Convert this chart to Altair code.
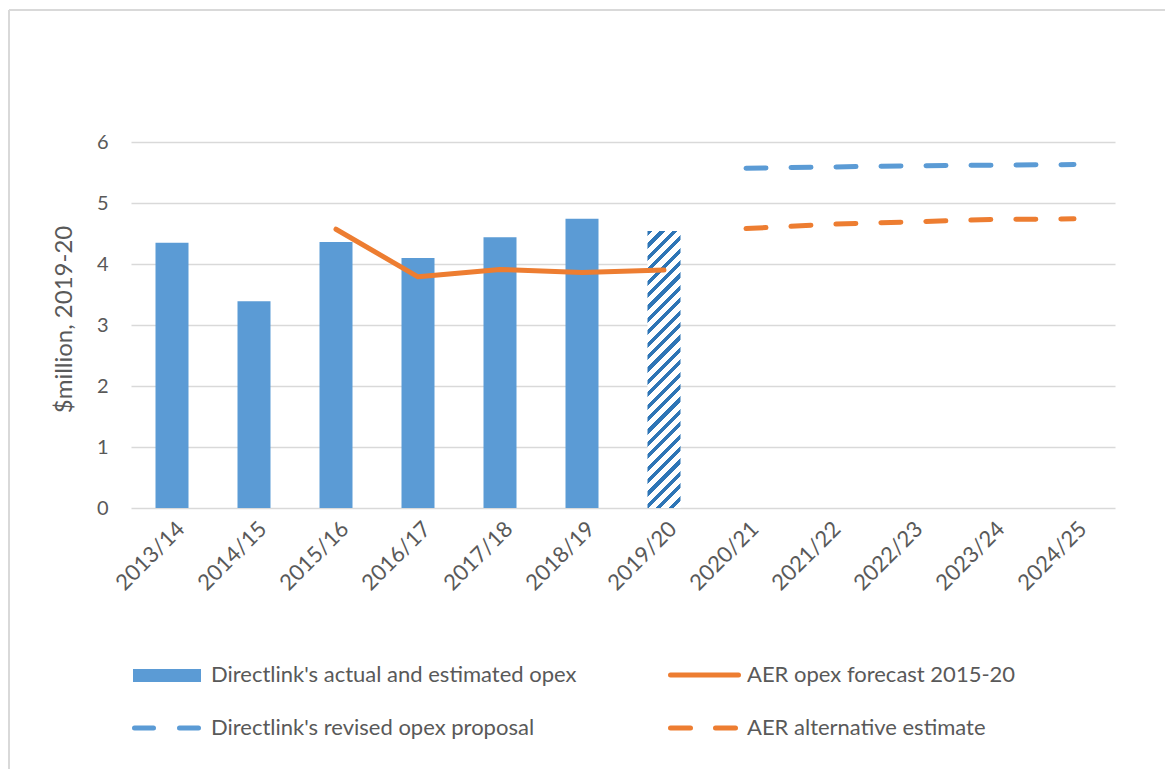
import altair as alt
import pandas as pd

# ---------------- data ----------------
years = ["2013/14", "2014/15", "2015/16", "2016/17", "2017/18", "2018/19",
         "2019/20", "2020/21", "2021/22", "2022/23", "2023/24", "2024/25"]

opex_years = ["2013/14", "2014/15", "2015/16", "2016/17", "2017/18", "2018/19"]
opex_values = [4.35, 3.39, 4.36, 4.10, 4.44, 4.74]

estimated_years = ["2019/20"]
estimated_values = [4.54]

aer_forecast_years = ["2015/16", "2016/17", "2017/18", "2018/19", "2019/20"]
aer_forecast_values = [4.57, 3.79, 3.91, 3.86, 3.90]

revised_years = ["2020/21", "2021/22", "2022/23", "2023/24", "2024/25"]
revised_values = [5.57, 5.59, 5.61, 5.62, 5.63]

alternative_years = ["2020/21", "2021/22", "2022/23", "2023/24", "2024/25"]
alternative_values = [4.58, 4.65, 4.69, 4.73, 4.74]

legend_labels = ["Directlink's actual and estimated opex",
                 "AER opex forecast 2015-20",
                 "Directlink's revised opex proposal",
                 "AER alternative estimate"]

y_title = "$million, 2019-20"

# ---------------- style ----------------
FONT = "Lato"
TEXT = "#595959"
BLUE = "#5B9BD5"
HATCH = "#2E75B6"
ORANGE = "#ED7D31"
GRID = "#D9D9D9"

W, H = 984, 366
YMAX = 6
BAR_W = 33
STEP = W / len(years)
PAD_IN = 1 - BAR_W / STEP

xscale = alt.Scale(domain=years, paddingInner=PAD_IN, paddingOuter=PAD_IN / 2)
yscale = alt.Scale(domain=[0, YMAX], nice=False)

x_axis = alt.Axis(title=None, labelAngle=-45, labelAlign="right",
                  labelBaseline="middle", labelPadding=17, labelOffset=9,
                  domain=False, ticks=False, tickSize=0, grid=False,
                  labelFont=FONT, labelFontSize=22, labelColor=TEXT)
y_axis = alt.Axis(title=y_title, values=[0, 1, 2, 3, 4, 5, 6], format="d",
                  domain=False, ticks=False, tickSize=0, labelPadding=23,
                  grid=True, gridColor=GRID, gridWidth=1.6,
                  labelFont=FONT, labelFontSize=20, labelColor=TEXT,
                  titleFont=FONT, titleFontSize=24, titleColor=TEXT,
                  titleFontWeight="normal", titleAngle=-90,
                  titleAlign="center", titleBaseline="alphabetic",
                  titleX=-60, titleY=177)


def xy():
    return dict(
        x=alt.X("year:N", scale=xscale, sort=years, axis=x_axis),
        y=alt.Y("value:Q", scale=yscale, axis=y_axis),
    )


# hatch gradient (diagonal stripes "///") for the estimated bar
bar_h = estimated_values[0] / YMAX * H
dx, dy = BAR_W / bar_h, 1.0
s = (dx + dy) / (dx * dx + dy * dy)
n_stripes = 25
frac = 0.42
stops = []
for i in range(n_stripes):
    a = i / n_stripes
    b = (i + frac) / n_stripes
    c = (i + 1) / n_stripes
    stops += [alt.GradientStop(offset=a, color="white"),
              alt.GradientStop(offset=a + 0.0001, color=HATCH),
              alt.GradientStop(offset=b, color=HATCH),
              alt.GradientStop(offset=b + 0.0001, color="white"),
              alt.GradientStop(offset=c, color="white")]
hatch = alt.Gradient(gradient="linear", stops=stops,
                     x1=0, y1=0, x2=dx * s, y2=dy * s)

one = pd.DataFrame({"k": [0]})

# ---------------- layers ----------------
bars = alt.Chart(pd.DataFrame({"year": opex_years, "value": opex_values})).mark_bar(
    color=BLUE).encode(**xy())

hatched = alt.Chart(pd.DataFrame({"year": estimated_years, "value": estimated_values})).mark_bar(
    fill=hatch).encode(**xy())

aer_line = alt.Chart(pd.DataFrame({"year": aer_forecast_years, "value": aer_forecast_values})).mark_line(
    color=ORANGE, strokeWidth=5, strokeCap="round", strokeJoin="round").encode(**xy())

revised_line = alt.Chart(pd.DataFrame({"year": revised_years, "value": revised_values})).mark_line(
    color=BLUE, strokeWidth=5, strokeCap="round", strokeDash=[20, 25]).encode(**xy())

alt_line = alt.Chart(pd.DataFrame({"year": alternative_years, "value": alternative_values})).mark_line(
    color=ORANGE, strokeWidth=5, strokeCap="round", strokeDash=[20, 25]).encode(**xy())

# border (top and left edges of the frame)
border_left = alt.Chart(one).mark_rule(color=GRID, strokeWidth=2).encode(
    x=alt.value(-122), y=alt.value(-132), y2=alt.value(640))
border_top = alt.Chart(one).mark_rule(color=GRID, strokeWidth=2).encode(
    x=alt.value(-122), x2=alt.value(1040), y=alt.value(-132))


# legend
def ltext(label, x, y):
    return alt.Chart(one).mark_text(
        text=label, align="left", baseline="alphabetic",
        font=FONT, fontSize=22, color=TEXT
    ).encode(x=alt.value(x), y=alt.value(y))


leg_rect = alt.Chart(one).mark_rect(color=BLUE).encode(
    x=alt.value(2), x2=alt.value(70), y=alt.value(527), y2=alt.value(540))
leg_aer = alt.Chart(one).mark_rule(color=ORANGE, strokeWidth=5, strokeCap="round").encode(
    x=alt.value(539.5), x2=alt.value(607.5), y=alt.value(533))
leg_rev = alt.Chart(one).mark_rule(color=BLUE, strokeWidth=5, strokeCap="round",
                                   strokeDash=[19, 26]).encode(
    x=alt.value(3.5), x2=alt.value(67.5), y=alt.value(586))
leg_alt = alt.Chart(one).mark_rule(color=ORANGE, strokeWidth=5, strokeCap="round",
                                   strokeDash=[20, 25]).encode(
    x=alt.value(539.5), x2=alt.value(605.5), y=alt.value(586))

chart = alt.layer(
    bars, hatched, aer_line, revised_line, alt_line,
    border_left, border_top,
    leg_rect, leg_aer, leg_rev, leg_alt,
    ltext(legend_labels[0], 80, 540),
    ltext(legend_labels[1], 616, 540),
    ltext(legend_labels[2], 80, 593),
    ltext(legend_labels[3], 616, 593),
).properties(
    width=W, height=H,
    padding={"left": 131, "top": 142, "right": 50, "bottom": 261},
    autosize=alt.AutoSizeParams(type="none"),
    background="white",
).configure_view(strokeWidth=0)

chart.save("out.html", embed_options={"renderer": "svg", "actions": False})
